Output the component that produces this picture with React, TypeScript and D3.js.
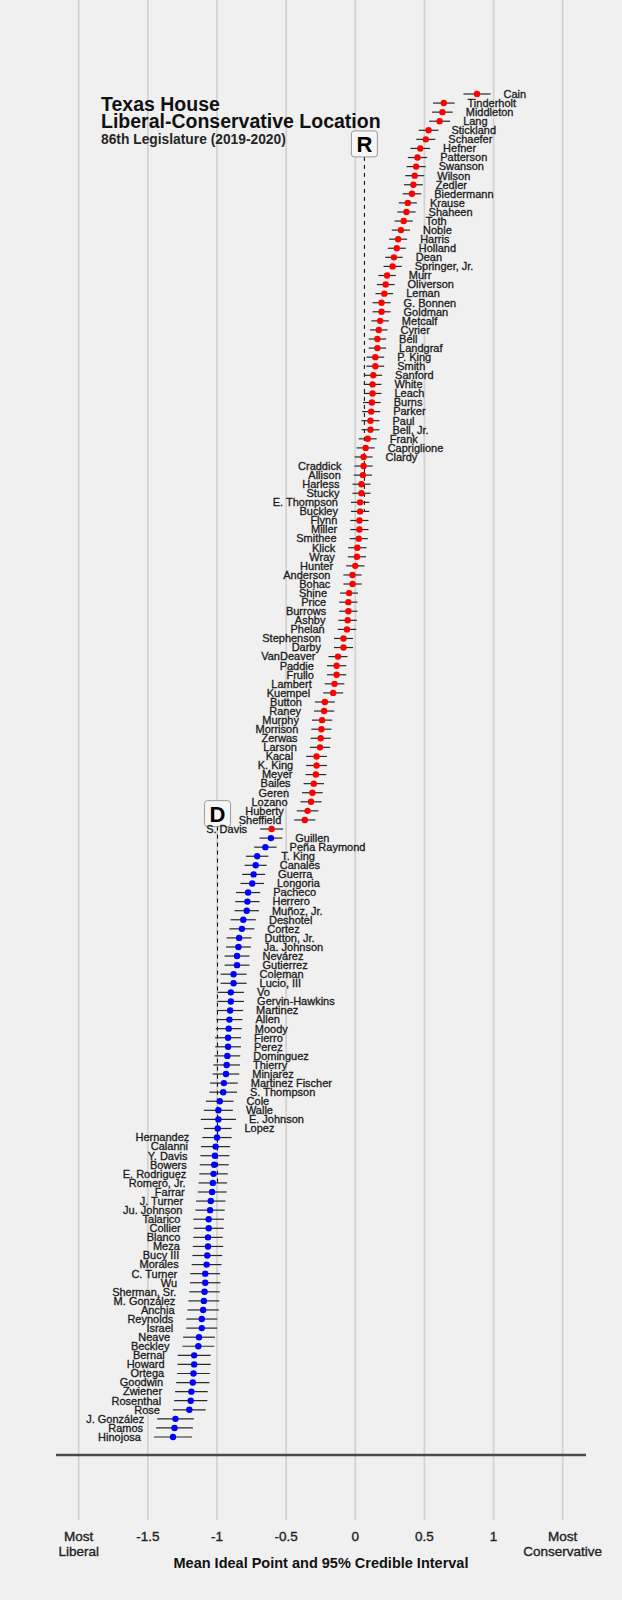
import React from "react";
import * as d3 from "d3";

// Republicans, ordered from most conservative down
const repNames = [
  "Cain", "Tinderholt", "Middleton", "Lang", "Stickland", "Schaefer", "Hefner", "Patterson",
  "Swanson", "Wilson", "Zedler", "Biedermann", "Krause", "Shaheen", "Toth", "Noble", "Harris",
  "Holland", "Dean", "Springer, Jr.", "Murr", "Oliverson", "Leman", "G. Bonnen", "Goldman",
  "Metcalf", "Cyrier", "Bell", "Landgraf", "P. King", "Smith", "Sanford", "White", "Leach",
  "Burns", "Parker", "Paul", "Bell, Jr.", "Frank", "Capriglione", "Clardy",
  "Craddick", "Allison", "Harless", "Stucky", "E. Thompson", "Buckley", "Flynn", "Miller",
  "Smithee", "Klick", "Wray", "Hunter", "Anderson", "Bohac", "Shine", "Price", "Burrows",
  "Ashby", "Phelan", "Stephenson", "Darby", "VanDeaver", "Paddie", "Frullo", "Lambert",
  "Kuempel", "Button", "Raney", "Murphy", "Morrison", "Zerwas", "Larson", "Kacal", "K. King",
  "Meyer", "Bailes", "Geren", "Lozano", "Huberty", "Sheffield", "S. Davis",
];
const repMeans = [
  0.88, 0.64, 0.63, 0.61, 0.53, 0.51, 0.47, 0.45, 0.44, 0.43, 0.42, 0.41, 0.38, 0.37, 0.35,
  0.33, 0.31, 0.3, 0.28, 0.27, 0.23, 0.22, 0.21, 0.19, 0.19, 0.18, 0.17, 0.16, 0.16, 0.145,
  0.145, 0.13, 0.125, 0.125, 0.12, 0.115, 0.11, 0.11, 0.09, 0.075, 0.06,
  0.06, 0.055, 0.045, 0.045, 0.035, 0.035, 0.03, 0.03, 0.025, 0.015, 0.012, 0.0, -0.02,
  -0.02, -0.045, -0.05, -0.05, -0.055, -0.06, -0.085, -0.085, -0.125, -0.135, -0.135, -0.15,
  -0.16, -0.22, -0.225, -0.24, -0.245, -0.25, -0.255, -0.28, -0.28, -0.285, -0.3, -0.31,
  -0.32, -0.345, -0.365, -0.605,
];
const repHalf = [
  0.098, 0.078, 0.075, 0.076, 0.071, 0.069, 0.071, 0.07, 0.069, 0.069, 0.068, 0.067, 0.066,
  0.066, 0.066, 0.066, 0.065, 0.065, 0.063, 0.066, 0.063, 0.064, 0.064, 0.065, 0.065, 0.063,
  0.063, 0.063, 0.063, 0.064, 0.064, 0.064, 0.064, 0.064, 0.064, 0.065, 0.065, 0.065, 0.065,
  0.065, 0.065,
  0.066, 0.066, 0.065, 0.065, 0.066, 0.066, 0.066, 0.066, 0.066, 0.066, 0.066, 0.066, 0.066,
  0.066, 0.065, 0.066, 0.066, 0.067, 0.067, 0.069, 0.069, 0.069, 0.07, 0.07, 0.071, 0.072,
  0.072, 0.073, 0.073, 0.073, 0.073, 0.073, 0.075, 0.075, 0.075, 0.074, 0.075, 0.076, 0.078,
  0.076, 0.083,
];
const repRightLabels = 41;

// Democrats
const demNames = [
  "Guillen", "Peña Raymond", "T. King", "Canales", "Guerra", "Longoria", "Pacheco", "Herrero",
  "Muñoz, Jr.", "Deshotel", "Cortez", "Dutton, Jr.", "Ja. Johnson", "Nevárez", "Gutierrez",
  "Coleman", "Lucio, III", "Vo", "Gervin-Hawkins", "Martinez", "Allen", "Moody", "Fierro",
  "Perez", "Dominguez", "Thierry", "Minjarez", "Martinez Fischer", "S. Thompson", "Cole",
  "Walle", "E. Johnson", "Lopez",
  "Hernandez", "Calanni", "Y. Davis", "Bowers", "E. Rodriguez", "Romero, Jr.", "Farrar",
  "J. Turner", "Ju. Johnson", "Talarico", "Collier", "Blanco", "Meza", "Bucy III", "Morales",
  "C. Turner", "Wu", "Sherman, Sr.", "M. González", "Anchia", "Reynolds", "Israel", "Neave",
  "Beckley", "Bernal", "Howard", "Ortega", "Goodwin", "Zwiener", "Rosenthal", "Rose",
  "J. González", "Ramos", "Hinojosa",
];
const demMeans = [
  -0.61, -0.65, -0.71, -0.72, -0.735, -0.745, -0.775, -0.78, -0.785, -0.81, -0.82, -0.84,
  -0.845, -0.855, -0.855, -0.88, -0.88, -0.9, -0.9, -0.905, -0.91, -0.915, -0.92, -0.92,
  -0.925, -0.93, -0.935, -0.95, -0.955, -0.98, -0.99, -0.99, -0.995,
  -1.0, -1.01, -1.015, -1.02, -1.025, -1.03, -1.035, -1.045, -1.05, -1.06, -1.06, -1.065,
  -1.065, -1.07, -1.075, -1.085, -1.085, -1.09, -1.095, -1.1, -1.11, -1.11, -1.13, -1.135,
  -1.165, -1.165, -1.17, -1.175, -1.185, -1.19, -1.2, -1.3, -1.307, -1.318,
];
const demHalf = [
  0.082, 0.081, 0.081, 0.08, 0.083, 0.085, 0.088, 0.088, 0.088, 0.092, 0.09, 0.09, 0.09,
  0.09, 0.09, 0.094, 0.094, 0.096, 0.096, 0.094, 0.094, 0.094, 0.094, 0.093, 0.093, 0.096,
  0.096, 0.1, 0.1, 0.1, 0.105, 0.127, 0.1,
  0.106, 0.105, 0.105, 0.105, 0.103, 0.103, 0.104, 0.106, 0.106, 0.11, 0.108, 0.106, 0.11,
  0.108, 0.108, 0.108, 0.11, 0.11, 0.112, 0.113, 0.112, 0.112, 0.115, 0.115, 0.119, 0.12,
  0.118, 0.12, 0.118, 0.12, 0.118, 0.132, 0.133, 0.138,
];
const demRightLabels = 33;

// party means (dashed lines) and the member rows where those lines stop
const partyMeans = { R: 0.066, D: -0.996 };
const partyLineEnd = { R: "Buckley", D: "Romero, Jr." };
const partyBoxRow = { R: 5.5, D: 79.3 };

const xTicks = [-2, -1.5, -1, -0.5, 0, 0.5, 1, 1.5];
const xTickLabels = ["Most\nLiberal", "-1.5", "-1", "-0.5", "0", "0.5", "1", "Most\nConservative"];

const W = 622;
const H = 1600;
const FONT = "'Liberation Sans', Arial, sans-serif";

type Member = { name: string; mean: number; half: number; party: "R" | "D"; right: boolean };

const members: Member[] = [
  ...repNames.map((name, i) => ({
    name, mean: repMeans[i], half: repHalf[i], party: "R" as const, right: i < repRightLabels,
  })),
  ...demNames.map((name, i) => ({
    name, mean: demMeans[i], half: demHalf[i], party: "D" as const, right: i < demRightLabels,
  })),
];

export default function App() {
  const x = d3.scaleLinear().domain([-2, 1.5]).range([78.7, 562.7]);
  const rowY = d3.scaleLinear().domain([0, members.length - 1]).range([94, 1437]);
  const y = (name: string) => rowY(members.findIndex((m) => m.name === name));

  const colors = { R: "#ff0000", D: "#0000ff" };

  return (
    <svg
      width={W}
      height={H}
      style={{ position: "absolute", left: 0, top: 0, fontFamily: FONT }}
    >
      <rect width={W} height={H} fill="#f0f0f0" />

      {/* vertical grid */}
      {xTicks.map((t) => (
        <line key={t} x1={x(t)} x2={x(t)} y1={0} y2={1520} stroke="#d3d3d3" strokeWidth={1.8} />
      ))}

      {/* title */}
      <text x={101} y={110.5} fontSize={19.5} fontWeight="bold" fill="#111">Texas House</text>
      <text x={101} y={127.7} fontSize={19.5} fontWeight="bold" fill="#111">
        Liberal-Conservative Location
      </text>
      <text x={101} y={143.8} fontSize={13.8} fontWeight="bold" fill="#262626">
        86th Legislature (2019-2020)
      </text>

      {/* party mean lines + boxes */}
      {(["R", "D"] as const).map((p) => {
        const cx = x(partyMeans[p]);
        const cy = rowY(partyBoxRow[p]);
        return (
          <g key={p}>
            <line
              x1={cx}
              x2={cx}
              y1={cy + 13}
              y2={y(partyLineEnd[p])}
              stroke="#000"
              strokeWidth={1}
              strokeDasharray="4,4"
            />
            <rect
              x={cx - 13}
              y={cy - 13}
              width={26}
              height={26}
              rx={3}
              fill="#f6f6f6"
              stroke="#9a9a9a"
              strokeWidth={1}
            />
            <text x={cx} y={cy + 8} textAnchor="middle" fontSize={22} fontWeight="bold" fill="#000">
              {p}
            </text>
          </g>
        );
      })}

      {/* intervals, points, labels */}
      {members.map((m, i) => {
        const yy = rowY(i);
        const lo = x(m.mean - m.half);
        const hi = x(m.mean + m.half);
        return (
          <g key={m.name}>
            <line x1={lo} x2={hi} y1={yy} y2={yy} stroke="#2a2a2a" strokeWidth={1.2} />
            <circle cx={x(m.mean)} cy={yy} r={3.2} fill={colors[m.party]} />
            <text
              x={m.right ? hi + 13 : lo - 13}
              y={yy}
              dy="0.35em"
              textAnchor={m.right ? "start" : "end"}
              fontSize={11}
              fill="#1a1a1a"
              stroke="#1a1a1a"
              strokeWidth={0.3}
            >
              {m.name}
            </text>
          </g>
        );
      })}

      {/* baseline */}
      <line x1={56} x2={586} y1={1455} y2={1455} stroke="#4a4a4a" strokeWidth={2.5} />

      {/* x tick labels */}
      {xTicks.map((t, i) => (
        <text
          key={t}
          x={x(t)}
          y={1541}
          textAnchor="middle"
          fontSize={13.5}
          fill="#222"
          stroke="#222"
          strokeWidth={0.35}
        >
          {xTickLabels[i].split("\n").map((line, j) => (
            <tspan key={j} x={x(t)} dy={j === 0 ? 0 : 15}>
              {line}
            </tspan>
          ))}
        </text>
      ))}

      <text x={321} y={1568} textAnchor="middle" fontSize={14.5} fontWeight="bold" fill="#111">
        Mean Ideal Point and 95% Credible Interval
      </text>
    </svg>
  );
}
